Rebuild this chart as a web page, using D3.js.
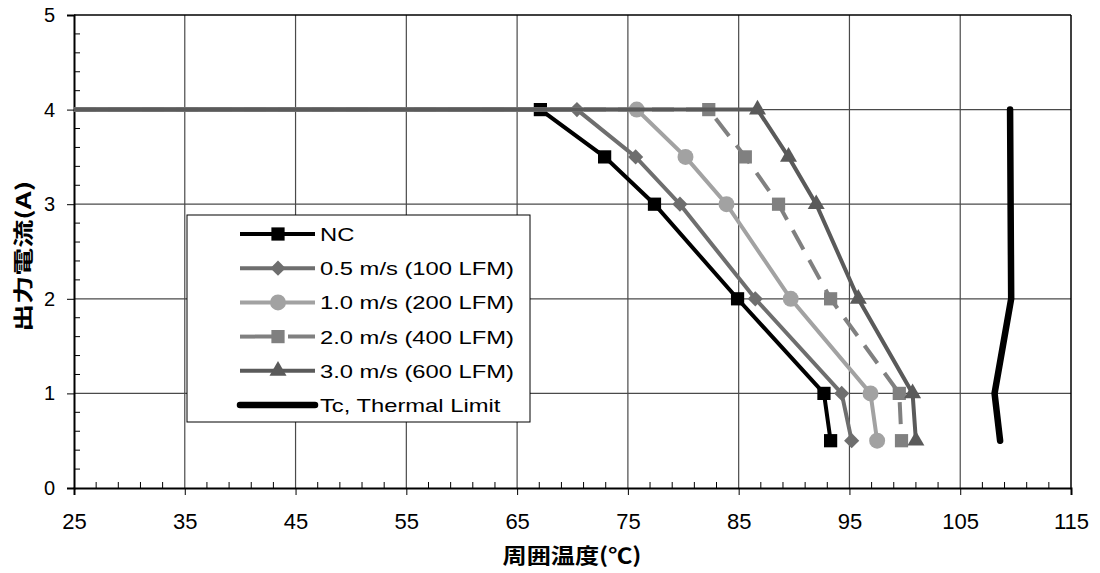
<!DOCTYPE html>
<html>
<head>
<meta charset="utf-8">
<script src="https://cdn.jsdelivr.net/npm/d3@7"></script>
<style>
  body { margin: 0; background: #fff; }
  svg text { font-family: "Liberation Sans", Arial, sans-serif; }
  .cjk { font-family: "Noto Sans CJK JP", "Noto Sans CJK SC", sans-serif; font-weight: bold; }
</style>
</head>
<body>
<svg id="chart" width="1100" height="573"></svg>
<script>
// temperatures (°C) for each output current step
var currents = [4, 3.5, 3, 2, 1, 0.5];
var seriesNames = ["NC", "0.5 m/s (100 LFM)", "1.0 m/s (200 LFM)", "2.0 m/s (400 LFM)", "3.0 m/s (600 LFM)"];
var tempNC   = [67.1, 72.9, 77.4, 84.9, 92.7, 93.3];
var temp05   = [70.4, 75.7, 79.7, 86.5, 94.3, 95.2];
var temp10   = [75.8, 80.2, 83.9, 89.7, 96.9, 97.5];
var temp20   = [82.3, 85.6, 88.6, 93.3, 99.5, 99.7];
var temp30   = [86.7, 89.5, 92.0, 95.8, 100.7, 101.0];
var flatStart = 25; // all curves start flat at 4 A from 25 °C

var limitName = "Tc, Thermal Limit";
var limitCurrent = [4, 2, 1, 0.5];
var limitTemp    = [109.5, 109.6, 108.1, 108.6];

var xTicks = [25, 35, 45, 55, 65, 75, 85, 95, 105, 115];
var yTicks = [0, 1, 2, 3, 4, 5];

var margin = {top: 15, right: 29, bottom: 85, left: 74};
var W = 1100, H = 573;
var iw = W - margin.left - margin.right, ih = H - margin.top - margin.bottom;

var svg = d3.select('#chart');
var g = svg.append('g').attr('transform', 'translate(' + margin.left + ',' + margin.top + ')');

var x = d3.scaleLinear().domain([25, 115]).range([0, iw]);
var y = d3.scaleLinear().domain([0, 5]).range([ih, 0]);

// grid
g.selectAll('.vgrid').data(xTicks.slice(1, -1)).enter().append('line')
  .attr('x1', function(d){return x(d)}).attr('x2', function(d){return x(d)})
  .attr('y1', 0).attr('y2', ih)
  .attr('stroke', '#4a4a4a').attr('stroke-width', 1.2);
g.selectAll('.hgrid').data(yTicks.slice(1, -1)).enter().append('line')
  .attr('y1', function(d){return y(d)}).attr('y2', function(d){return y(d)})
  .attr('x1', 0).attr('x2', iw)
  .attr('stroke', '#4a4a4a').attr('stroke-width', 1.2);
// frame top/right
g.append('line').attr('x1', 0).attr('x2', iw).attr('y1', 0).attr('y2', 0).attr('stroke', '#000').attr('stroke-width', 1.5);
g.append('line').attr('x1', iw).attr('x2', iw).attr('y1', 0).attr('y2', ih).attr('stroke', '#000').attr('stroke-width', 1.5);

// minor ticks (inside)
var xMinor = d3.range(25, 115.01, 2).filter(function(v){return (v - 25) % 10 !== 0});
g.selectAll('.xminor').data(xMinor).enter().append('line')
  .attr('x1', function(d){return x(d)}).attr('x2', function(d){return x(d)})
  .attr('y1', ih).attr('y2', ih - 6).attr('stroke', '#000');
var yMinor = d3.range(0, 5.001, 0.2).filter(function(v){return Math.abs(v - Math.round(v)) > 0.01});
g.selectAll('.yminor').data(yMinor).enter().append('line')
  .attr('y1', function(d){return y(d)}).attr('y2', function(d){return y(d)})
  .attr('x1', 0).attr('x2', 6).attr('stroke', '#000');

// axes
var xAxis = g.append('g').attr('transform', 'translate(0,' + ih + ')')
  .call(d3.axisBottom(x).tickValues(xTicks).tickSize(7).tickPadding(18));
var yAxis = g.append('g')
  .call(d3.axisLeft(y).tickValues(yTicks).tickFormat(d3.format('d')).tickSize(7).tickPadding(12));
[xAxis, yAxis].forEach(function(a){
  a.select('.domain').attr('stroke', '#000').attr('stroke-width', 2);
  a.selectAll('.tick line').attr('stroke', '#000');
  a.selectAll('.tick text').attr('fill', '#000')
    .style('font-family', '"Liberation Sans", Arial, sans-serif');
});
xAxis.selectAll('.tick text').style('font-size', '22px');
yAxis.selectAll('.tick text').style('font-size', '20px');

// series
var series = [
  {name: seriesNames[0], temps: tempNC, color: '#000000', shape: d3.symbolSquare, size: 175, rot: 0, dash: null},
  {name: seriesNames[1], temps: temp05, color: '#6e6e6e', shape: d3.symbolSquare, size: 115, rot: 45, dash: null},
  {name: seriesNames[2], temps: temp10, color: '#a2a2a2', shape: d3.symbolCircle, size: 200, rot: 0, dash: null},
  {name: seriesNames[3], temps: temp20, color: '#808080', shape: d3.symbolSquare, size: 175, rot: 0, dash: '22,12'},
  {name: seriesNames[4], temps: temp30, color: '#5a5a5a', shape: d3.symbolTriangle, size: 125, rot: 0, dash: null}
];

var line = d3.line().x(function(d){return x(d[0])}).y(function(d){return y(d[1])});

series.forEach(function(s){
  var pts = s.temps.map(function(t, i){return [t, currents[i]]});
  var path = [[flatStart, currents[0]]].concat(pts);
  g.append('path').datum(path).attr('d', line)
    .attr('fill', 'none').attr('stroke', s.color).attr('stroke-width', 4)
    .attr('stroke-dasharray', s.dash);
  g.selectAll(null).data(pts).enter().append('path')
    .attr('d', d3.symbol().type(s.shape).size(s.size))
    .attr('transform', function(d){return 'translate(' + x(d[0]) + ',' + y(d[1]) + ') rotate(' + s.rot + ')'})
    .attr('fill', s.color);
});

var limitPts = limitTemp.map(function(t, i){return [t, limitCurrent[i]]});
g.append('path').datum(limitPts).attr('d', line)
  .attr('fill', 'none').attr('stroke', '#000').attr('stroke-width', 6.5).attr('stroke-linecap', 'round');

// legend
var leg = svg.append('g').attr('transform', 'translate(187,215)');
leg.append('rect').attr('width', 343).attr('height', 207).attr('fill', '#fff').attr('stroke', '#000').attr('stroke-width', 1);
var legItems = series.concat([{name: limitName, color: '#000', shape: null, rot: 0, dash: null, limit: true}]);
legItems.forEach(function(s, i){
  var ly = 19 + i * 34.2;
  var row = leg.append('g').attr('transform', 'translate(0,' + ly + ')');
  row.append('line').attr('x1', 53).attr('x2', 128).attr('y1', 0).attr('y2', 0)
    .attr('stroke', s.color).attr('stroke-width', s.limit ? 6.5 : 4)
    .attr('stroke-linecap', s.limit ? 'round' : 'butt')
    .attr('stroke-dasharray', s.dash ? '40,8' : null);
  if (s.shape) {
    row.append('path').attr('d', d3.symbol().type(s.shape).size(s.size))
      .attr('transform', 'translate(91,0) rotate(' + s.rot + ')').attr('fill', s.color);
  }
  row.append('text').attr('transform', 'translate(133,7) scale(1.25,1)').attr('fill', '#000')
    .style('font-size', '19px').text(s.name);
});

// axis titles
svg.append('text').attr('class', 'cjk')
  .attr('transform', 'translate(31,' + (margin.top + y(2.45)) + ') rotate(-90) scale(1.4,1)')
  .attr('text-anchor', 'middle').style('font-size', '20px').text('出力電流(A)');
svg.append('text').attr('class', 'cjk')
  .attr('transform', 'translate(572,563) scale(1.15,1)').attr('text-anchor', 'middle')
  .style('font-size', '21px').text('周囲温度(℃)');
</script>
</body>
</html>
